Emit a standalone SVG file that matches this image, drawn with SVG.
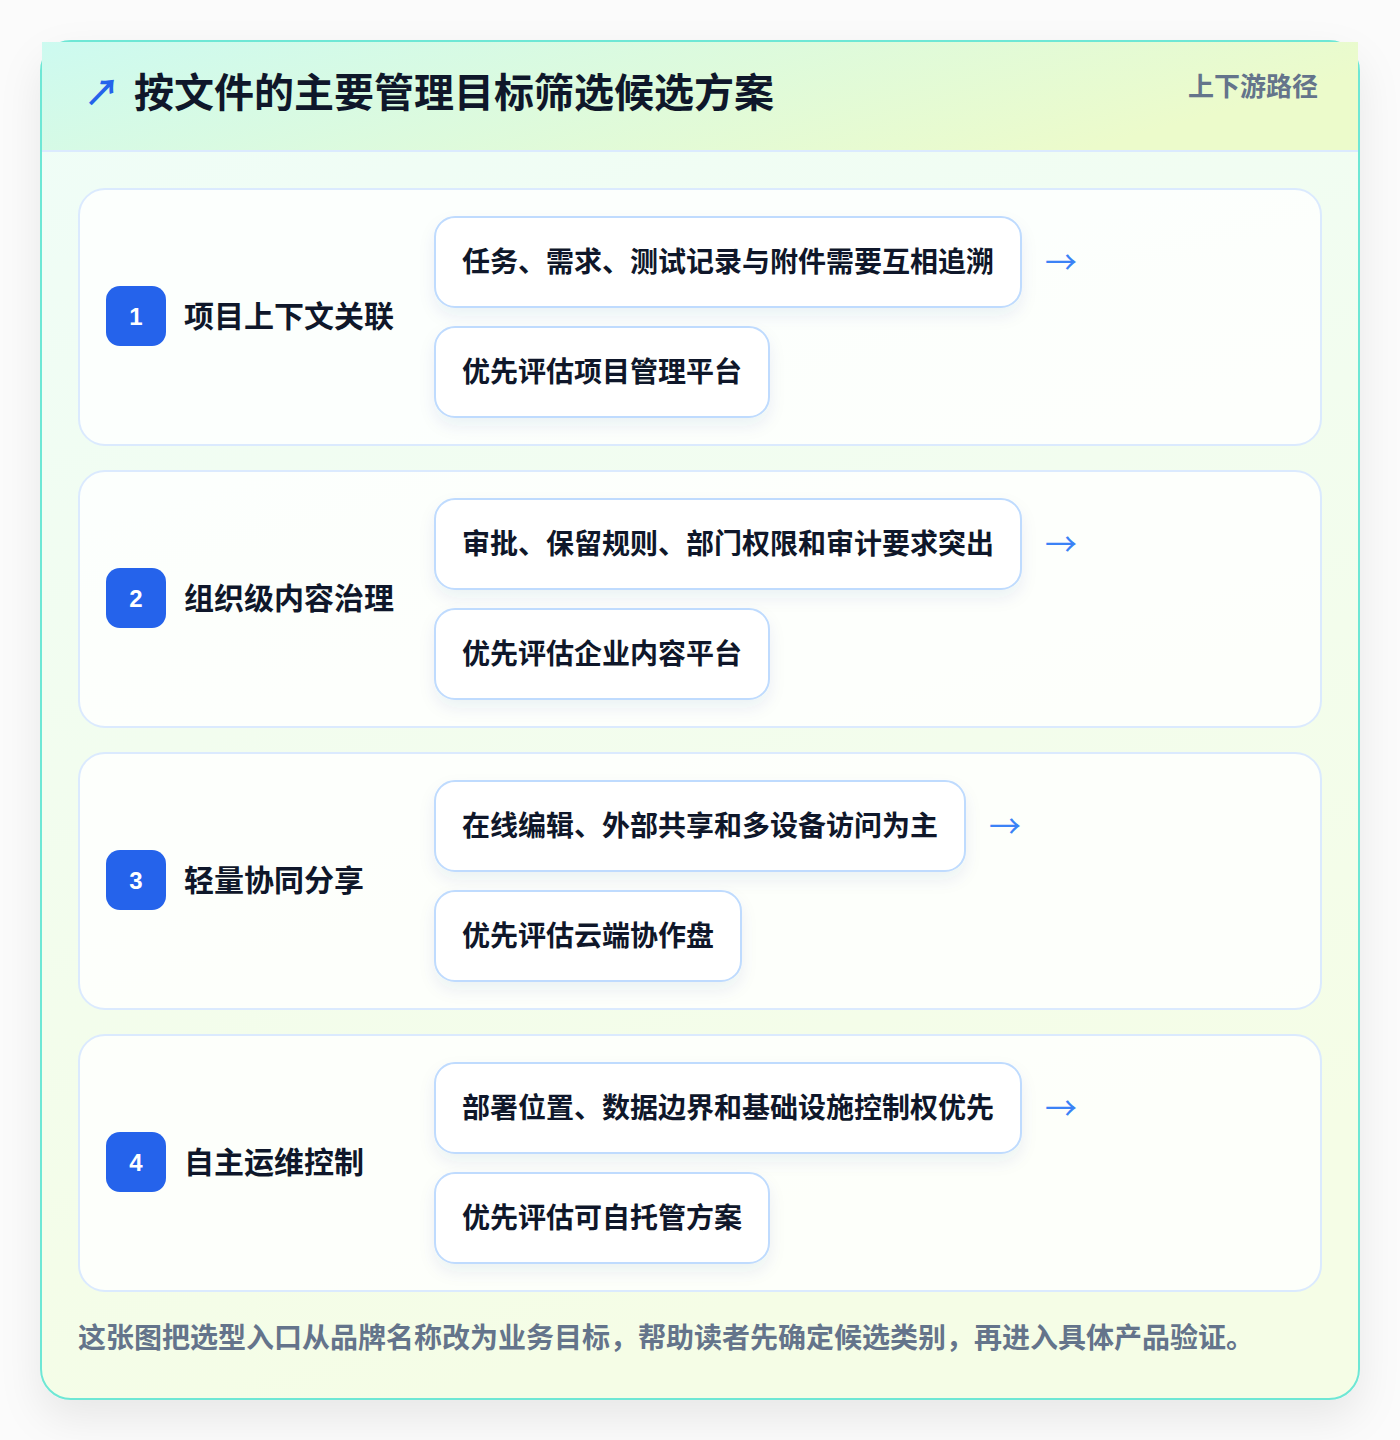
<svg xmlns="http://www.w3.org/2000/svg" width="1400" height="1440" viewBox="0 0 1400 1440">
<defs>
<linearGradient id="hdr" x1="0" y1="0" x2="1" y2="0.3">
<stop offset="0" stop-color="#cdfaf0"/>
<stop offset="1" stop-color="#ecfbcb"/>
</linearGradient>
<linearGradient id="body" x1="0" y1="0" x2="0.3" y2="1">
<stop offset="0" stop-color="#effdf8"/>
<stop offset="1" stop-color="#f5fde6"/>
</linearGradient>
<filter id="cardShadow" x="-10%" y="-10%" width="120%" height="120%">
<feDropShadow dx="0" dy="18" stdDeviation="20" flood-color="#0f172a" flood-opacity="0.08"/>
</filter>
<filter id="boxShadow" x="-10%" y="-20%" width="120%" height="150%">
<feDropShadow dx="0" dy="8" stdDeviation="8" flood-color="#1e3a8a" flood-opacity="0.07"/>
</filter>
<style>
.t{font-family:"Noto Sans CJK SC","Noto Sans",sans-serif;font-weight:700}
.title{font-size:40px;fill:#0f172a}
.sub{font-size:26px;fill:#64748b}
.lbl{font-size:30px;fill:#0f172a}
.box{fill:#ffffff;stroke:#bfdbfe;stroke-width:2}
.btxt{font-size:28px;fill:#0f172a}
.panel{fill:#ffffff;fill-opacity:0.8;stroke:#dbeafe;stroke-width:2}
.badge{fill:#2563eb}
.num{font-family:"Liberation Sans",Arial,sans-serif;font-weight:700;font-size:24px;fill:#ffffff}
.arr{font-family:"Noto Sans CJK SC",sans-serif;font-size:32px;fill:#3b82f6}
.foot{font-size:28px;fill:#64748b}
</style>
</defs>
<rect width="1400" height="1440" fill="#fbfbfb"/>
<g id="card">
<rect x="41" y="41" width="1318" height="1358" rx="30" fill="url(#body)" stroke="#6ee7d5" stroke-width="2" filter="url(#cardShadow)"/>
<rect x="42" y="42" width="1316" height="109" fill="url(#hdr)"/>
<line x1="42" y1="151" x2="1358" y2="151" stroke="#dbeafe" stroke-width="2"/>
<text class="t" x="84" y="106" font-size="36" fill="#2563eb" font-family="DejaVu Sans,sans-serif">↗</text>
<text class="t title" x="134" y="107">按文件的主要管理目标筛选候选方案</text>
<text class="t sub" x="1318" y="96" text-anchor="end">上下游路径</text>
</g>
<g id="row1">
<rect class="panel" x="79" y="189" width="1242" height="256" rx="26"/>
<rect class="badge" x="106" y="286" width="60" height="60" rx="14"/>
<text class="num" x="136" y="316" text-anchor="middle" dominant-baseline="central">1</text>
<text class="t lbl" x="184" y="314" dominant-baseline="central">项目上下文关联</text>
<g id="row1-a"><rect class="box" x="435" y="217" width="586" height="90" rx="20" filter="url(#boxShadow)"/>
<text class="t btxt" x="462" y="260" dominant-baseline="central">任务、需求、测试记录与附件需要互相追溯</text></g>
<g id="row1-b"><rect class="box" x="435" y="327" width="334" height="90" rx="20" filter="url(#boxShadow)"/>
<text class="t btxt" x="462" y="370" dominant-baseline="central">优先评估项目管理平台</text></g>
</g>
<g id="row2">
<rect class="panel" x="79" y="471" width="1242" height="256" rx="26"/>
<rect class="badge" x="106" y="568" width="60" height="60" rx="14"/>
<text class="num" x="136" y="598" text-anchor="middle" dominant-baseline="central">2</text>
<text class="t lbl" x="184" y="596" dominant-baseline="central">组织级内容治理</text>
<g id="row2-a"><rect class="box" x="435" y="499" width="586" height="90" rx="20" filter="url(#boxShadow)"/>
<text class="t btxt" x="462" y="542" dominant-baseline="central">审批、保留规则、部门权限和审计要求突出</text></g>
<g id="row2-b"><rect class="box" x="435" y="609" width="334" height="90" rx="20" filter="url(#boxShadow)"/>
<text class="t btxt" x="462" y="652" dominant-baseline="central">优先评估企业内容平台</text></g>
</g>
<g id="row3">
<rect class="panel" x="79" y="753" width="1242" height="256" rx="26"/>
<rect class="badge" x="106" y="850" width="60" height="60" rx="14"/>
<text class="num" x="136" y="880" text-anchor="middle" dominant-baseline="central">3</text>
<text class="t lbl" x="184" y="878" dominant-baseline="central">轻量协同分享</text>
<g id="row3-a"><rect class="box" x="435" y="781" width="530" height="90" rx="20" filter="url(#boxShadow)"/>
<text class="t btxt" x="462" y="824" dominant-baseline="central">在线编辑、外部共享和多设备访问为主</text></g>
<g id="row3-b"><rect class="box" x="435" y="891" width="306" height="90" rx="20" filter="url(#boxShadow)"/>
<text class="t btxt" x="462" y="934" dominant-baseline="central">优先评估云端协作盘</text></g>
</g>
<g id="row4">
<rect class="panel" x="79" y="1035" width="1242" height="256" rx="26"/>
<rect class="badge" x="106" y="1132" width="60" height="60" rx="14"/>
<text class="num" x="136" y="1162" text-anchor="middle" dominant-baseline="central">4</text>
<text class="t lbl" x="184" y="1160" dominant-baseline="central">自主运维控制</text>
<g id="row4-a"><rect class="box" x="435" y="1063" width="586" height="90" rx="20" filter="url(#boxShadow)"/>
<text class="t btxt" x="462" y="1106" dominant-baseline="central">部署位置、数据边界和基础设施控制权优先</text></g>
<g id="row4-b"><rect class="box" x="435" y="1173" width="334" height="90" rx="20" filter="url(#boxShadow)"/>
<text class="t btxt" x="462" y="1216" dominant-baseline="central">优先评估可自托管方案</text></g>
</g>
<g id="connectors">
<text class="arr" x="1045" y="260" dominant-baseline="central">→</text>
<text class="arr" x="1045" y="542" dominant-baseline="central">→</text>
<text class="arr" x="989" y="824" dominant-baseline="central">→</text>
<text class="arr" x="1045" y="1106" dominant-baseline="central">→</text>
</g>
<text class="t foot" x="78" y="1336" dominant-baseline="central">这张图把选型入口从品牌名称改为业务目标，帮助读者先确定候选类别，再进入具体产品验证。</text>
</svg>
